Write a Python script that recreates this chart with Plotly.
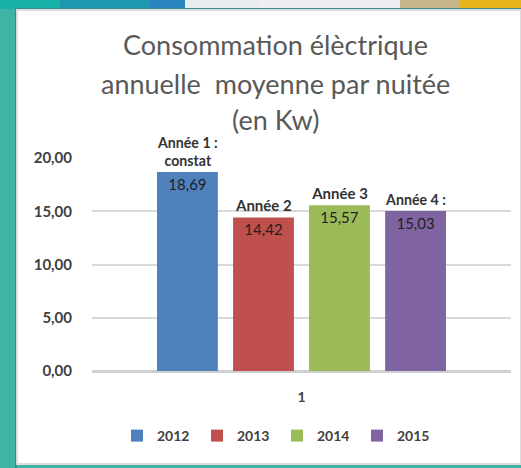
import plotly.graph_objects as go

# ---- data ----
categories = ["1"]
years = ["2012", "2013", "2014", "2015"]
values = [18.69, 14.42, 15.57, 15.03]
value_labels = ["18,69", "14,42", "15,57", "15,03"]
top_labels = ["Année 1 :<br>constat", "Année 2", "Année 3", "Année 4 :"]
colors = ["#4F81BD", "#C0504D", "#9BBB59", "#8064A2"]
title_lines = ["Consommation élèctrique", "annuelle  moyenne par nuitée", "(en Kw)"]

W, H = 521, 468
L, R, T, B = 92, 10, 158, 97
PW, PH = W - L - R, H - T - B


def px_x(px):
    return (px - L) / PW


def px_y(py):
    return (H - B - py) / PH


fig = go.Figure()
for i, yr in enumerate(years):
    fig.add_trace(go.Bar(
        x=categories, y=[values[i]], name=yr, offsetgroup=str(i),
        marker=dict(color=colors[i], line=dict(width=0)),
        text=[value_labels[i]], textposition="inside", insidetextanchor="end",
        textangle=0,
        textfont=dict(family="Lato", size=15, color="#1f1f1f"),
        cliponaxis=False,
    ))
for i, yr in enumerate(years):
    fig.add_trace(go.Bar(
        x=categories, y=[values[i]], name=yr + " label", offsetgroup=str(i),
        marker=dict(color="rgba(0,0,0,0)", line=dict(width=0)),
        text=[top_labels[i]], textposition="outside", textangle=0,
        textfont=dict(family="Lato", size=15, color="#333333", weight="bold"),
        showlegend=False, hoverinfo="skip", cliponaxis=False,
    ))

shapes = []


def rect(x0, y0, x1, y1, fill, line=None, lw=0):
    shapes.append(dict(type="rect", xref="paper", yref="paper",
                       x0=px_x(x0), x1=px_x(x1), y0=px_y(y0), y1=px_y(y1),
                       fillcolor=fill, line=dict(width=lw, color=line or fill),
                       layer="below"))


rect(0, 0, 60, 9, "#16b2aa")
rect(60, 0, 150, 9, "#1c98b0")
rect(150, 0, 185, 9, "#2a84c2")
rect(185, 0, 260, 9, "#e9ecef")
rect(260, 0, 400, 9, "#eeeef4")
rect(400, 0, 460, 9, "#c8b48a")
rect(460, 0, 521, 9, "#e4b418")
rect(16, 8, 521, 10, "#3b8c93")
rect(15, 9, 17, 468, "#2f8e8a")
rect(17, 10, 521, 464, "#ffffff", line="#dcdcdc", lw=2)

annotations = []
for k, (line, yy) in enumerate(zip(title_lines, [45, 83, 119])):
    annotations.append(dict(text=line, xref="paper", yref="paper",
                            x=px_x(275), y=px_y(yy), xanchor="center", yanchor="middle",
                            showarrow=False,
                            font=dict(family="Lato", size=27, color="#595959")))

fig.update_layout(
    width=W, height=H,
    margin=dict(l=L, r=R, t=T, b=B, autoexpand=False),
    paper_bgcolor="#3db4a6", plot_bgcolor="rgba(0,0,0,0)",
    barmode="group", bargap=0.274, bargroupgap=0.2,
    separators=", ",
    shapes=shapes, annotations=annotations,
    showlegend=True,
    legend=dict(orientation="h", x=px_x(117), xanchor="left", y=px_y(436), yanchor="middle",
                font=dict(family="Lato", size=14, color="#404040", weight="bold"),
                bgcolor="rgba(0,0,0,0)", entrywidth=35, entrywidthmode="pixels",
                traceorder="normal"),
    xaxis=dict(type="category", showgrid=False, zeroline=False, showline=False,
               ticks="outside", ticklen=13, tickcolor="rgba(0,0,0,0)",
               tickfont=dict(family="Lato", size=14, color="#404040", weight="bold")),
    yaxis=dict(range=[0, 20], dtick=5, tickformat=".2f", showgrid=True,
               gridcolor="#d9d9d9", gridwidth=2, zeroline=True, zerolinecolor="#cfcfcf",
               zerolinewidth=3, showline=False, ticks="outside", ticklen=16,
               tickcolor="rgba(0,0,0,0)",
               tickfont=dict(family="Lato", size=15, color="#404040", weight="bold")),
    font=dict(family="Lato"),
)

fig.write_html("out.html", config={"displayModeBar": False},
               post_script="document.body.style.margin='0px';document.body.style.overflow='hidden';")
